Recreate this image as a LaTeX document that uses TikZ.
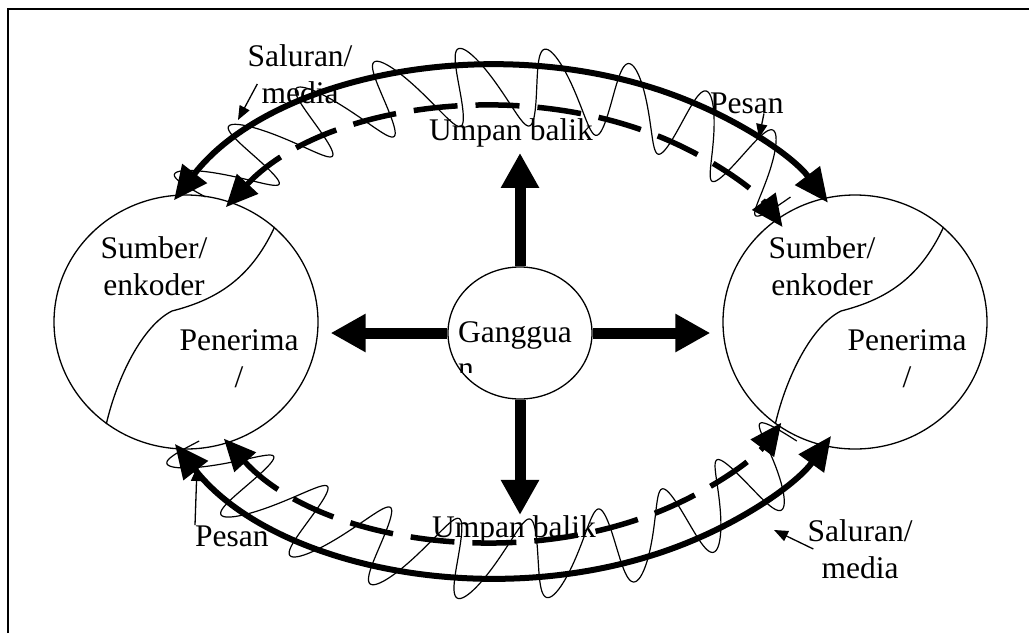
\documentclass[tikz,border=0pt]{standalone}
\usepackage{fontspec}
\setmainfont{Liberation Serif}
\usetikzlibrary{arrows.meta,positioning,calc,shapes.geometric}

\begin{document}
\begin{tikzpicture}[
    x=1pt,y=-1pt,
    party/.style={draw,ellipse,line width=1.3pt,inner sep=0pt,
      minimum width=264pt,minimum height=254pt},
    lbl/.style={inner sep=0pt,align=center,font=\fontsize{31.5}{36.5}\selectfont},
    bigarrow/.style={line width=11pt,-{Triangle[length=35pt,width=36pt]}},
    channel/.style={line width=6pt,
      {Triangle[length=34pt,width=30pt]}-{Triangle[length=34pt,width=30pt]}},
    feedback/.style={line width=5.5pt,dash pattern=on 44pt off 18pt,
      {Triangle[length=32pt,width=28pt]}-{Triangle[length=32pt,width=28pt]}},
    wave/.style={line width=1.2pt,line join=round},
    pointer/.style={line width=1.3pt,-{Triangle[length=14pt,width=11pt]}}
  ]
  \useasboundingbox (0,0) rectangle (1029,633);
  \draw[line width=1.6pt] (8,633) -- (8,9) -- (1029,9);

  \node[party] (lc) at (186,322) {};
  \node[party] (rc) at (855,322) {};
  \node[party,minimum width=144pt,minimum height=132pt] (noise) at (520,333) {};

  \draw[line width=1.3pt] (lc.47) .. controls (250,280) and (215,300) .. (172,311)
    .. controls (142,326) and (117,378) .. (lc.232);
  \draw[line width=1.3pt] (rc.47) .. controls (919,280) and (884,300) .. (841,311)
    .. controls (811,326) and (786,378) .. (rc.232);

  \node[lbl,anchor=base] (lsrc) at (154,295) {Sumber/\\enkoder};
  \node[lbl,anchor=base] (rsrc) at (822,295) {Sumber/\\enkoder};
  \node[lbl,anchor=base] (lrcv) at (239,387) {Penerima\\/};
  \node[lbl,anchor=base] (rrcv) at (907,387) {Penerima\\/};
  \begin{scope}
    \clip (440,290) rectangle (600,372);
    \node[lbl,align=left,anchor=base west] (noisetext) at (458,378.5) {Ganggua\\n};
  \end{scope}
  \node[lbl,anchor=base] (fbtop) at (511,140) {Umpan balik};
  \node[lbl,anchor=base] (fbbot) at (514,537) {Umpan balik};
  \node[lbl,anchor=base] (sal1) at (300,103) {Saluran/\\media};
  \node[lbl,anchor=base] (sal2) at (860,578) {Saluran/\\media};
  \node[lbl,anchor=base west] (pesan1) at (710,113) {Pesan};
  \node[lbl,anchor=base west] (pesan2) at (195,546) {Pesan};

  \draw[bigarrow,shorten >=6pt] (noise.north) -- (noise.north |- fbtop.south);
  \draw[bigarrow] (noise.south) -- (noise.south |- fbbot.north);
  \draw[bigarrow,shorten >=12pt] (noise.west) -- (noise.west -| lc.east);
  \draw[bigarrow,shorten >=12pt] (noise.east) -- (noise.east -| rc.west);

  \coordinate (ctr) at (500,321.5);
  \coordinate (fbc) at (496,324);
  \coordinate (chA) at ($(ctr)+(-151.8:370 and 256.5)$);
  \coordinate (chB) at ($(ctr)+(151.5:370 and 256.5)$);
  \coordinate (fbA) at ($(fbc)+(-147.6:320 and 218)$);
  \coordinate (fbB) at ($(fbc)+(148.3:320 and 218)$);

  \draw[channel] (chA) arc[start angle=-151.8,end angle=-27.6,x radius=370,y radius=256.5];
  \draw[channel] (chB) arc[start angle=151.5,end angle=26.5,x radius=370,y radius=256.5];
  \draw[feedback] (fbA) arc[start angle=-147.6,end angle=-26.4,x radius=320,y radius=218];
  \draw[feedback] (fbB) arc[start angle=148.3,end angle=26.9,x radius=320,y radius=218];

  \draw[wave] plot[domain=0:116,samples=600,variable=\t]
    ({498+(345+39*sin(27.93*\t))*cos(-148+\t-2.5*sin(27.93*\t))},
     {322+(236+39*sin(27.93*\t))*sin(-148+\t-2.5*sin(27.93*\t))});
  \draw[wave] plot[domain=0:120,samples=600,variable=\t]
    ({498+(345+40*sin(27*\t))*cos(150-\t+2.5*sin(27*\t))},
     {322+(238+40*sin(27*\t))*sin(150-\t+2.5*sin(27*\t))});

  \coordinate (salA) at (238,120);
  \coordinate (pesA) at (759,138);
  \coordinate (pesB) at (197,467);
  \coordinate (salB) at (774,530);
  \draw[pointer] ([xshift=10pt,yshift=-10pt]sal1.west) -- (salA);
  \draw[pointer] ([xshift=17pt]pesan1.south) -- (pesA);
  \draw[pointer] (pesan2.north west) -- (pesB);
  \draw[pointer] ([xshift=6pt]sal2.west) -- (salB);
\end{tikzpicture}
\end{document}
